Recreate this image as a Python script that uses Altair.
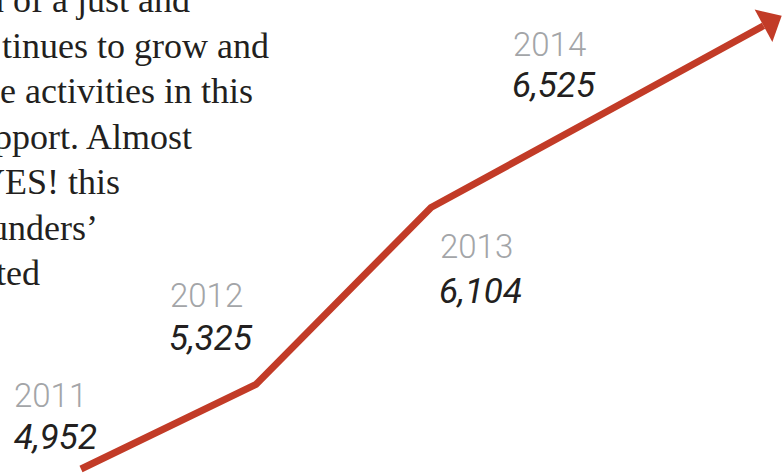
import altair as alt
import pandas as pd

# ---- data ----
years = [2011, 2012, 2013, 2014]
members = [4952, 5325, 6104, 6525]
year_labels = ["2011", "2012", "2013", "2014"]
value_labels = ["4,952", "5,325", "6,104", "6,525"]
arrow_base_year = [2014.9]
arrow_base_value = [6905]

para_lines = [
    "n of a just and",
    "tinues to grow and",
    "e activities in this",
    "pport. Almost",
    "YES! this",
    "unders\u2019",
    "ted",
]

RED = "#c23b27"
GRAY = "#a3a5a8"
DARK = "#231f20"

df = pd.DataFrame({"year": years, "value": members,
                   "ylab": year_labels, "vlab": value_labels})
arrow_df = pd.DataFrame({"year": arrow_base_year, "value": arrow_base_value})
line_df = pd.concat([df[["year", "value"]], arrow_df], ignore_index=True)

xs = alt.Scale(domain=[2011, 2014], range=[81, 606], nice=False, zero=False)
ys = alt.Scale(domain=[4952, 6525], range=[469, 112], nice=False, zero=False)
X = alt.X("year:Q", scale=xs, axis=None)
Y = alt.Y("value:Q", scale=ys, axis=None)

# paragraph (cropped at the left edge)
para_x = [-14, 2, 0, -6, -21, -10, -4]
para_layers = []
for i, t in enumerate(para_lines):
    para_layers.append(
        alt.Chart(pd.DataFrame({"t": [t]})).mark_text(
            align="left", baseline="alphabetic", font="Liberation Serif",
            fontSize=36, color=DARK
        ).encode(x=alt.value(para_x[i]), y=alt.value(12 + 45.5 * i), text="t:N")
    )

line = alt.Chart(line_df).mark_line(
    color=RED, strokeWidth=7, strokeJoin="miter", strokeCap="butt"
).encode(x=X, y=Y, order="year:Q")

arrow = alt.Chart(arrow_df).mark_point(
    shape="M0,-1L1.12,0L0,1Z", size=1369, filled=True, color=RED,
    opacity=1, angle=331.4, strokeWidth=0
).encode(x=X, y=Y)

# label offsets (year dx, year dy, value dx, value dy)
offsets = {
    2011: (-67, -62, -67, -20),
    2012: (-86, -77, -87, -34),
    2013: (9, 50, 8, 95),
    2014: (-93, -56, -94, -15),
}
label_layers = []
for yr, (ydx, ydy, vdx, vdy) in offsets.items():
    base = alt.Chart(df).transform_filter(alt.datum.year == yr)
    label_layers.append(
        base.mark_text(align="left", baseline="alphabetic", dx=ydx, dy=ydy,
                       font="Roboto", fontWeight=300, fontSize=33, color=GRAY)
        .encode(x=X, y=Y, text="ylab:N")
    )
    label_layers.append(
        base.mark_text(align="left", baseline="alphabetic", dx=vdx, dy=vdy,
                       font="Roboto", fontStyle="italic", fontSize=35, color=DARK)
        .encode(x=X, y=Y, text="vlab:N")
    )

chart = alt.layer(*para_layers, line, arrow, *label_layers).properties(
    width=784, height=473, autosize="none", padding=0
).configure_view(stroke=None)

chart.save("out.html", embed_options={"renderer": "svg", "actions": False})
